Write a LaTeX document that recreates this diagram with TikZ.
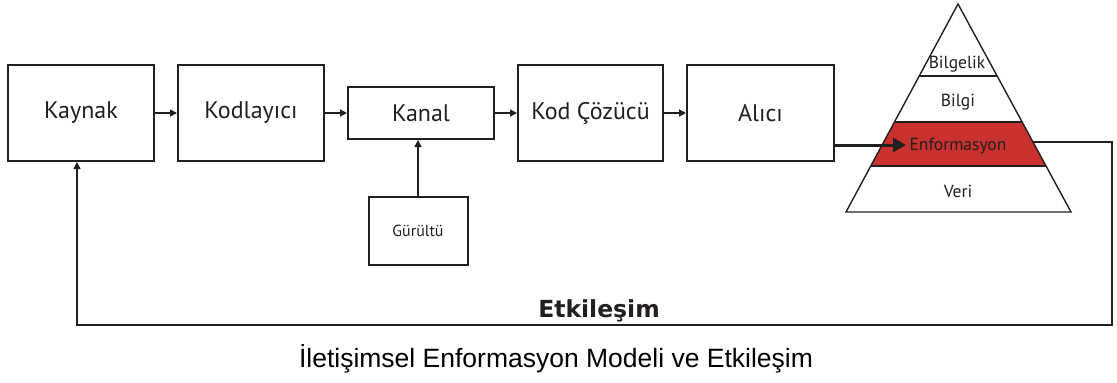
\documentclass[tikz,border=0pt]{standalone}
\usepackage{fontspec}
\setmainfont{PT Sans}
\newfontfamily\arialfont{Liberation Sans}
\newfontfamily\heavyfont{DejaVu Sans}
\usetikzlibrary{arrows.meta,calc}
\definecolor{ink}{HTML}{231F20}
\definecolor{band}{HTML}{C8312E}
\tikzset{
  blk/.style={draw=ink,line width=2pt,fill=white,text=ink,font=\fontsize{24}{28}\selectfont,inner sep=0pt},
  conn/.style={draw=ink,line width=1.5pt,-{Triangle[length=7pt,width=7pt]}},
  pyr/.style={draw=ink,line width=1.4pt},
  plab/.style={text=ink,font=\fontsize{17.5}{20}\selectfont,inner sep=0pt},
}
\begin{document}
\begin{tikzpicture}[x=1pt,y=-1pt]
\useasboundingbox[fill=white] (0,0) rectangle (1117,383);
% boxes
\node[blk,minimum width=146pt,minimum height=96pt] (kaynak) at (81,113) {Kaynak};
\node[blk,minimum width=146pt,minimum height=96pt] (kod) at (251,113) {Kodlayıcı};
\node[blk,minimum width=146pt,minimum height=52pt] (kanal) at (421,113) {Kanal};
\node[blk,minimum width=145pt,minimum height=96pt] (cozucu) at (590.5,113) {Kod Çözücü};
\node[blk,minimum width=147pt,minimum height=96pt] (alici) at (760.5,113) {Alıcı};
\node[blk,minimum width=99pt,minimum height=68pt,font=\fontsize{16}{18}\selectfont] (gurultu) at (418,231) {Gürültü};
% pyramid
\coordinate (apex) at (958,4);
\coordinate (bl) at (846,212);
\coordinate (br) at (1071,212);
\fill[band] ($(apex)!0.567!(bl)$) -- ($(apex)!0.567!(br)$) -- ($(apex)!0.779!(br)$) -- ($(apex)!0.779!(bl)$) -- cycle;
\draw[pyr,line join=miter] (apex) -- (br) -- (bl) -- cycle;
\draw[pyr] ($(apex)!0.346!(bl)$) -- ($(apex)!0.346!(br)$);
\draw[pyr] ($(apex)!0.567!(bl)$) -- ($(apex)!0.567!(br)$);
\draw[pyr] ($(apex)!0.779!(bl)$) -- ($(apex)!0.779!(br)$);
\node[plab] (bilgelik) at (957,64) {Bilgelik};
\node[plab] (bilgi) at (958,102) {Bilgi};
\node[plab] (enf) at (958,146) {Enformasyon};
\node[plab] (veri) at (958,191) {Veri};
% connectors
\draw[conn] (kaynak.east) -- (kod.west);
\draw[conn] (kod.east) -- (kanal.west);
\draw[conn] (kanal.east) -- (cozucu.west);
\draw[conn] (cozucu.east) -- (alici.west);
\draw[conn] (gurultu.north) -- (gurultu.north |- kanal.south);
\coordinate (tip) at (906,145);
\draw[draw=ink,line width=3pt,-{Triangle[length=13pt,width=14pt]}] (alici.east |- tip) -- (tip);
\coordinate (fbstart) at ($(apex)!0.663!(br)$);
\coordinate (fbcorner) at (1112,325);
\draw[conn] (fbstart) -- (fbstart -| fbcorner) -- (fbcorner) -- (fbcorner -| 77,0) -- (77,0 |- kaynak.south);
\node[text=ink,font=\heavyfont\bfseries\fontsize{23.5}{26}\selectfont,anchor=base] (etk) at (599,317) {Etkileşim};
\node[text=black,font=\arialfont\fontsize{26.5}{30}\selectfont,anchor=base] (cap) at (556,367) {İletişimsel Enformasyon Modeli ve Etkileşim};
\end{tikzpicture}
\end{document}
